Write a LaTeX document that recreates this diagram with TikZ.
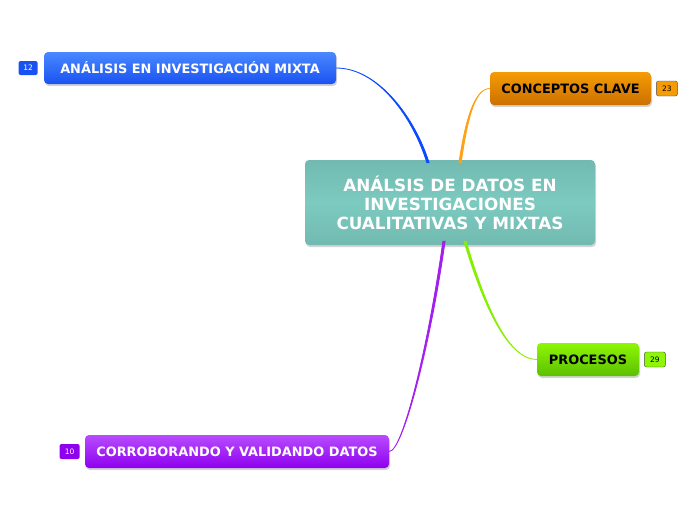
\documentclass[tikz,border=0pt]{standalone}
\usepackage{fontspec}
\setmainfont{DejaVu Sans}
\usetikzlibrary{shadows}

\definecolor{tealmain}{HTML}{7CCAC0}
\definecolor{bluetop}{HTML}{4A88FF}
\definecolor{bluebot}{HTML}{1A52F2}
\definecolor{orangetop}{HTML}{F59C05}
\definecolor{orangebot}{HTML}{CC7000}
\definecolor{greentop}{HTML}{8EF705}
\definecolor{greenbot}{HTML}{5CBF00}
\definecolor{purpletop}{HTML}{B84CFF}
\definecolor{purplebot}{HTML}{8F00EE}
\definecolor{blueline}{HTML}{0B4BFF}
\definecolor{orangeline}{HTML}{FFA114}
\definecolor{greenline}{HTML}{84F000}
\definecolor{purpleline}{HTML}{A21FF0}

\tikzset{
    topic/.style={rounded corners=4pt, inner sep=0pt, font=\fontsize{12.9}{15}\selectfont\bfseries,
        drop shadow={shadow xshift=1pt, shadow yshift=-2pt, opacity=0.35}},
    badge/.style={rounded corners=2pt, inner sep=0pt, minimum height=15pt,
        font=\fontsize{7.5}{8}\selectfont},
    branch/.style={line width=0.8pt}
}

\begin{document}
\begin{tikzpicture}[x=1pt, y=-1pt]
    \useasboundingbox (0,0) rectangle (696,520);

    % Central topic
    \node[topic, top color=tealmain!92!black, bottom color=tealmain!92!black,
          middle color=tealmain, text=white, minimum width=290pt, minimum height=85pt,
          align=center, font=\fontsize{16.8}{19}\selectfont\bfseries] (root) at (450,202.5)
        {ANÁLSIS DE DATOS EN\\INVESTIGACIONES\\CUALITATIVAS Y MIXTAS};

    % Main branches
    \node[topic, top color=bluetop, bottom color=bluebot, text=white,
          minimum width=292pt, minimum height=32pt] (mixta) at (190,68)
        {ANÁLISIS EN INVESTIGACIÓN MIXTA};
    \node[topic, top color=orangetop, bottom color=orangebot, text=black,
          minimum width=161pt, minimum height=33pt] (conceptos) at (570.5,88.5)
        {CONCEPTOS CLAVE};
    \node[topic, top color=greentop, bottom color=greenbot, text=black,
          minimum width=102pt, minimum height=33pt] (procesos) at (588,359.5)
        {PROCESOS};
    \node[topic, top color=purpletop, bottom color=purplebot, text=white,
          minimum width=304pt, minimum height=33pt] (validando) at (237,451.5)
        {CORROBORANDO Y VALIDANDO DATOS};

    % Counters
    \node[badge, fill=bluebot, text=white, minimum width=19pt, minimum height=14pt, anchor=east] (nmixta) at ([xshift=-6pt]mixta.west) {12};
    \node[badge, fill=orangetop, draw=black!70, text=black, minimum width=21pt, anchor=west] (nconceptos) at ([xshift=5pt]conceptos.east) {23};
    \node[badge, fill=greentop, draw=black!70, text=black, minimum width=21pt, anchor=west] (nprocesos) at ([xshift=5pt]procesos.east) {29};
    \node[badge, fill=purplebot, text=white, minimum width=20pt, anchor=east] (nvalidando) at ([xshift=-5pt]validando.west) {10};

    % Connectors (tapered towards the central topic)
    \coordinate (mixtaA) at ([xshift=-23.1pt, yshift=-3pt]root.north);
    \coordinate (mixtaB) at ([xshift=-20.9pt, yshift=-3pt]root.north);
    \filldraw[branch, blueline] (mixta.east) .. controls +(42,0) and +(-14,-45) .. (mixtaA)
        -- (mixtaB) .. controls +(-14,-45) and +(42,0) .. (mixta.east);

    \coordinate (conceptosA) at ([xshift=8.9pt, yshift=-3pt]root.north);
    \coordinate (conceptosB) at ([xshift=11.1pt, yshift=-3pt]root.north);
    \filldraw[branch, orangeline] (conceptos.west) .. controls +(-16,0) and +(6,-40) .. (conceptosA)
        -- (conceptosB) .. controls +(6,-40) and +(-16,0) .. (conceptos.west);

    \coordinate (procesosA) at ([xshift=13.9pt, yshift=4pt]root.south);
    \coordinate (procesosB) at ([xshift=16.1pt, yshift=4pt]root.south);
    \filldraw[branch, greenline] (procesos.west) .. controls +(-30,0) and +(18,60) .. (procesosA)
        -- (procesosB) .. controls +(18,60) and +(-30,0) .. (procesos.west);

    \coordinate (validandoA) at ([xshift=-7.1pt, yshift=4pt]root.south);
    \coordinate (validandoB) at ([xshift=-4.9pt, yshift=4pt]root.south);
    \filldraw[branch, purpleline] (validando.east) .. controls +(14,0) and +(-14,100) .. (validandoA)
        -- (validandoB) .. controls +(-14,100) and +(14,0) .. (validando.east);
\end{tikzpicture}
\end{document}
